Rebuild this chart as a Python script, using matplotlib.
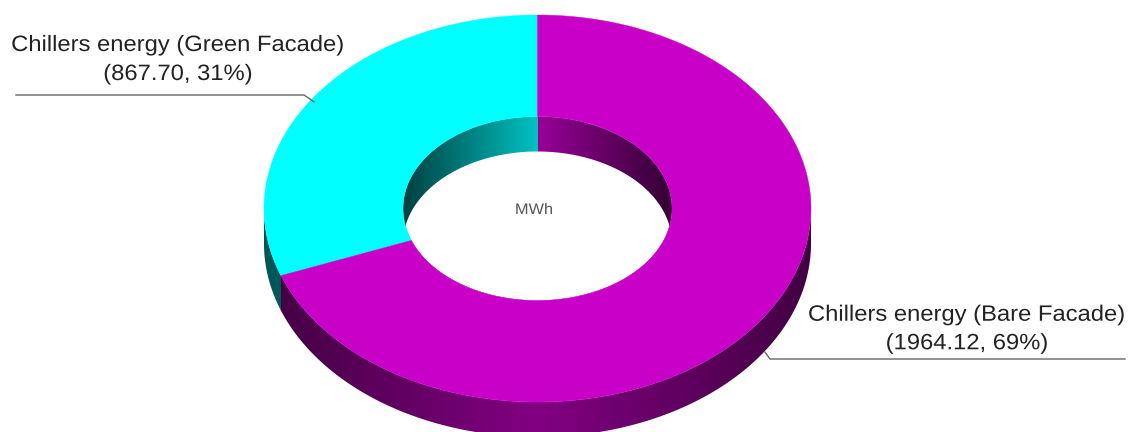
import matplotlib.pyplot as plt
import numpy as np
from matplotlib.colors import to_rgb
from matplotlib.patches import Polygon
from matplotlib.patheffects import AbstractPathEffect
from matplotlib.transforms import Affine2D

WIDTH: int = 1128
HEIGHT: int = 432

labels = ["Chillers energy (Green Facade)", "Chillers energy (Bare Facade)"]
values = [867.70, 1964.12]
percents = [31, 69]
colors = ["#00FFFF", "#C800C8"]
unit = "MWh"

# ring geometry in pixels
CX, CY = 537.5, 208.5
RX, RY = 273.5, 193.5
IN_RX, IN_RY = 134.5, 92.0
DEPTH = 35.0


class StretchX(AbstractPathEffect):
    # the original picture was resized, so its text is wider than the font
    def __init__(self, center, factor=1.07):
        super().__init__()
        self.stretch = Affine2D().translate(-center, 0).scale(factor, 1).translate(center, 0)

    def draw_path(self, renderer, gc, tpath, affine, rgbFace=None):
        renderer.draw_path(gc, tpath, affine + self.stretch, rgbFace)


def ellipse(theta, rx, ry, dy=0.0):
    return np.column_stack(
        [CX + rx * np.cos(np.radians(theta)), CY - ry * np.sin(np.radians(theta)) + dy]
    )


def gradient(ax, x0, x1, color, lo, hi, clip, zorder):
    # brightness follows the distance from the ring centre, dark towards the sides
    xs = np.linspace(x0, x1, 300)
    reach = RX if lo > 0.3 else IN_RX
    pos = np.clip(np.abs(xs - CX) / reach, 0, 1)
    strip = np.outer(hi + (lo - hi) * pos, np.array(to_rgb(color)))[np.newaxis, :, :]
    im = ax.imshow(
        strip, extent=(x0, x1, CY + RY + DEPTH, CY - RY), aspect="auto",
        interpolation="bilinear", zorder=zorder,
    )
    im.set_clip_path(clip)


def main() -> None:
    fig = plt.figure(figsize=(WIDTH / 100, HEIGHT / 100), dpi=100)
    ax = fig.add_axes([0, 0, 1, 1])
    ax.axis("off")
    plt.rcParams["font.family"] = ["Liberation Sans", "DejaVu Sans"]

    # slices run counter clockwise from 12 o'clock
    total = sum(values)
    edges = 90 + np.cumsum([0] + values) / total * 360

    # outer wall, only the front half shows
    for i in range(len(values)):
        start, end = max(edges[i], 180), min(edges[i + 1], 360)
        if start >= end:
            continue
        theta = np.linspace(start, end, 400)
        wall = np.vstack([ellipse(theta, RX, RY), ellipse(theta[::-1], RX, RY, DEPTH)])
        clip = Polygon(wall, closed=True, fc="none", ec="none", transform=ax.transData)
        ax.add_patch(clip)
        gradient(ax, wall[:, 0].min(), wall[:, 0].max(), colors[i], 0.33, 0.65, clip, 1)

    # inner wall, only the back half shows: fill the hole, then put the
    # hole outline moved down by the depth over it in white
    hole_theta = np.linspace(0, 360, 721)
    hole = Polygon(ellipse(hole_theta, IN_RX, IN_RY), closed=True, fc="none", ec="none",
                   transform=ax.transData)
    ax.add_patch(hole)
    gradient(ax, CX - IN_RX, CX, colors[0], 0.25, 0.76, hole, 1)
    gradient(ax, CX, CX + IN_RX, colors[1], 0.25, 0.76, hole, 1)
    lower = Polygon(ellipse(hole_theta, IN_RX, IN_RY, DEPTH), closed=True, fc="white",
                    ec="none", zorder=2)
    ax.add_patch(lower)
    lower.set_clip_path(hole)

    # top face
    for i in range(len(values)):
        theta = np.linspace(edges[i], edges[i + 1], 400)
        outline = np.vstack([ellipse(theta, RX, RY), ellipse(theta[::-1], IN_RX, IN_RY)])
        ax.add_patch(Polygon(outline, closed=True, fc=colors[i], ec=colors[i], lw=0.3, zorder=3))

    # leader lines start at the middle of each slice
    mid = (edges[:-1] + edges[1:]) / 2
    tip_left = ellipse(mid[0], RX, RY)[0]
    tip_right = ellipse(mid[1], RX, RY, DEPTH)[0]
    ax.plot(
        [16, tip_left[0] - 9, tip_left[0] + 1],
        [95, 95, tip_left[1] + 4],
        color="#666666", lw=1.0, zorder=4,
    )
    ax.plot(
        [1125, tip_right[0] + 8, tip_right[0] + 3],
        [359, 359, tip_right[1] - 2],
        color="#666666", lw=1.0, zorder=4,
    )

    ax.set_xlim(0, WIDTH)
    ax.set_ylim(HEIGHT, 0)

    ax.text(178, 60, f"{labels[0]}\n({values[0]:.2f}, {percents[0]}%)", ha="center",
            va="center", fontsize=16, color="#222222", linespacing=1.5, zorder=5,
            path_effects=[StretchX(178)])
    ax.text(967, 329.5, f"{labels[1]}\n({values[1]:.2f}, {percents[1]}%)", ha="center",
            va="center", fontsize=16, color="#222222", linespacing=1.47, zorder=5,
            path_effects=[StretchX(967)])
    ax.text(534, 210, unit, ha="center", va="center", fontsize=11, color="#555555",
            zorder=5, path_effects=[StretchX(534)])

    fig.savefig("out.png", dpi=100, facecolor="white")


if __name__ == "__main__":
    main()
